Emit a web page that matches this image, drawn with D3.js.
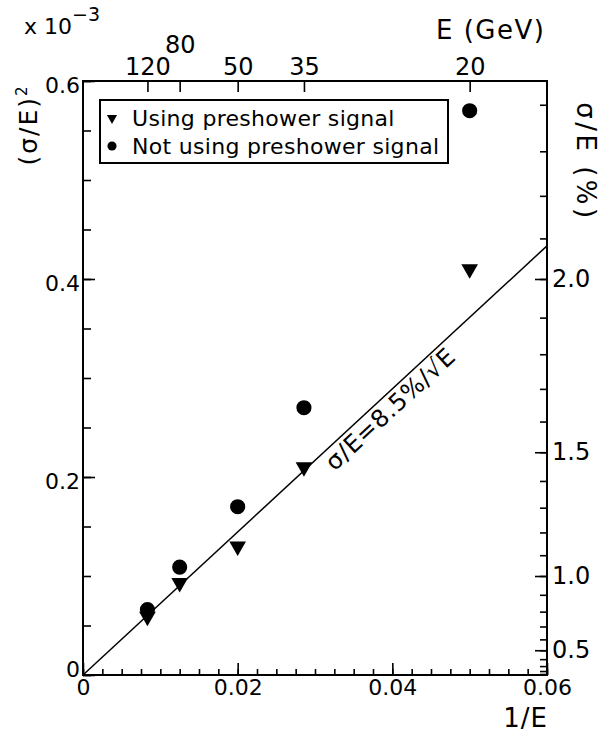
<!DOCTYPE html>
<html>
<head>
<meta charset="utf-8">
<script src="https://cdn.jsdelivr.net/npm/d3@7/dist/d3.min.js"></script>
<style>
  html, body { margin: 0; padding: 0; background: #fff; }
  svg text { font-family: "DejaVu Sans", "Liberation Sans", sans-serif; fill: #000; }
</style>
</head>
<body>
<svg id="chart" width="609" height="738"></svg>
<script>
// ---------------- data ----------------
const energies = [120, 80, 50, 35, 20];                 // GeV
const usingPreshower = [0.059, 0.093, 0.13, 0.21, 0.41]; // (sigma/E)^2 x 1e-3
const notUsingPreshower = [0.066, 0.109, 0.17, 0.27, 0.57];
const seriesNames = ["Using preshower signal", "Not using preshower signal"];
const xTicks = [0, 0.02, 0.04, 0.06];
const yTicks = [0, 0.2, 0.4, 0.6];
const rightTicks = [0.5, 1.0, 1.5, 2.0];                  // sigma/E in %
const resolutionTerm = 0.085;                            // sigma/E = 8.5%/sqrt(E)
const fitX = [0, 0.06];

// ---------------- layout ----------------
const X0 = 83, X1 = 547, Y0 = 675, Y1 = 81;
const svg = d3.select("#chart");
const x = d3.scaleLinear().domain([0, 0.06]).range([X0, X1]);
const y = d3.scaleLinear().domain([0, 0.6]).range([Y0, Y1]);
const pctToY = p => p * p / 10; // (p/100)^2 / 1e-3

function styleAxis(g, fs) {
  g.select(".domain").remove();
  g.selectAll(".tick line").attr("stroke", "#000").attr("stroke-width", 1.6);
  g.selectAll(".tick text").attr("font-size", fs).attr("fill", "#000")
    .attr("font-family", "DejaVu Sans, sans-serif");
}

// bottom axis
const minorX = d3.range(0, 0.0601, 0.0025);
svg.append("g").attr("transform", `translate(0,${Y0})`)
  .call(d3.axisBottom(x).tickValues(minorX).tickFormat("").tickSizeInner(-6).tickSizeOuter(0))
  .call(g => styleAxis(g, 20));
svg.append("g").attr("transform", `translate(0,${Y0})`)
  .call(d3.axisBottom(x).tickValues(xTicks).tickFormat(d => d === 0 ? "0" : d3.format(".2f")(d))
        .tickSizeInner(-12).tickSizeOuter(0).tickPadding(4))
  .call(g => styleAxis(g, 22));

// left axis
const minorY = d3.range(0, 0.601, 0.05);
svg.append("g").attr("transform", `translate(${X0},0)`)
  .call(d3.axisLeft(y).tickValues(minorY).tickFormat("").tickSizeInner(-8).tickSizeOuter(0))
  .call(g => styleAxis(g, 20));
svg.append("g").attr("transform", `translate(${X0},0)`)
  .call(d3.axisLeft(y).tickValues(yTicks).tickFormat(d => d === 0 ? "0" : d3.format(".1f")(d))
        .tickSizeInner(-12).tickSizeOuter(0).tickPadding(3))
  .call(g => styleAxis(g, 22))
  .call(g => g.selectAll(".tick text").attr("dy", d => d === 0 ? "0.05em" : "0.5em"));

// right axis (sigma/E %)
const minorR = d3.range(1, 25).map(i => i / 10);
svg.append("g").attr("transform", `translate(${X1},0)`)
  .call(d3.axisRight(y).tickValues(minorR.map(pctToY)).tickFormat("").tickSizeInner(-7).tickSizeOuter(0))
  .call(g => styleAxis(g, 20));
svg.append("g").attr("transform", `translate(${X1},0)`)
  .call(d3.axisRight(y).tickValues(rightTicks.map(pctToY))
        .tickFormat((d, i) => d3.format(".1f")(rightTicks[i]))
        .tickSizeInner(-12).tickSizeOuter(0).tickPadding(5))
  .call(g => styleAxis(g, 24));

// top axis (E in GeV)
const topAxis = svg.append("g").attr("transform", `translate(0,${Y1})`)
  .call(d3.axisTop(x).tickValues(energies.map(e => 1 / e))
        .tickFormat((d, i) => String(energies[i])).tickSizeInner(-11).tickSizeOuter(0).tickPadding(6))
  .call(g => styleAxis(g, 24));
topAxis.selectAll(".tick text").filter((d, i) => energies[i] === 80).attr("dy", "-0.9em");

// frame
svg.append("rect").attr("x", X0).attr("y", Y1).attr("width", X1 - X0).attr("height", Y0 - Y1)
  .attr("fill", "none").attr("stroke", "#000").attr("stroke-width", 2);

// fit line
const k = resolutionTerm * resolutionTerm / 1e-3;
svg.append("path")
  .datum(fitX.map(v => [v, k * v]))
  .attr("d", d3.line().x(d => x(d[0])).y(d => y(d[1])))
  .attr("fill", "none").attr("stroke", "#000").attr("stroke-width", 1.5);

// line label
const ang = -Math.atan((y(0) - y(k * 0.06)) / (x(0.06) - x(0))) * 180 / Math.PI;
const lx = 0.0315, lOff = 22;
svg.append("text")
  .attr("transform", `translate(${x(lx) + 8},${y(k * lx) + lOff}) rotate(${ang})`)
  .attr("font-size", 24).attr("letter-spacing", 0.8)
  .text("σ/E=8.5%/√E");

// markers
const tri = d3.symbol().type(d3.symbolTriangle);
const circ = d3.symbol().type(d3.symbolCircle);
svg.append("g").selectAll("path.c").data(energies).join("path")
  .attr("transform", (e, i) => `translate(${x(1 / e)},${y(notUsingPreshower[i])})`)
  .attr("d", circ.size(180)()).attr("fill", "#000");
svg.append("g").selectAll("path.t").data(energies).join("path")
  .attr("transform", (e, i) => `translate(${x(1 / e)},${y(usingPreshower[i])}) rotate(180)`)
  .attr("d", tri.size(120)()).attr("fill", "#000");

// legend
const lg = svg.append("g");
lg.append("rect").attr("x", 100).attr("y", 100).attr("width", 348).attr("height", 63)
  .attr("fill", "#fff").attr("stroke", "#000").attr("stroke-width", 2);
lg.append("path").attr("transform", "translate(112,118) rotate(180)")
  .attr("d", tri.size(45)()).attr("fill", "#000");
lg.append("path").attr("transform", "translate(112,146)")
  .attr("d", circ.size(65)()).attr("fill", "#000");
lg.append("text").attr("x", 132).attr("y", 126).attr("font-size", 22).attr("letter-spacing", 0.3).text(seriesNames[0]);
lg.append("text").attr("x", 132).attr("y", 154).attr("font-size", 22).attr("letter-spacing", 0.3).text(seriesNames[1]);

// titles
const t10 = svg.append("text").attr("x", 24).attr("y", 34).attr("font-size", 22);
t10.append("tspan").text("x 10");
t10.append("tspan").attr("dy", -13).attr("font-size", 19).text("−3");

svg.append("text").attr("x", 436).attr("y", 39).attr("font-size", 26).attr("letter-spacing", 1.5)
  .text("E (GeV)");
svg.append("text").attr("x", 548).attr("y", 727).attr("text-anchor", "end")
  .attr("font-size", 26).attr("letter-spacing", 1).text("1/E");

const yl = svg.append("text").attr("transform", "translate(37,125) rotate(-90)")
  .attr("text-anchor", "middle").attr("font-size", 25).attr("letter-spacing", 2);
yl.append("tspan").text("(σ/E)");
yl.append("tspan").attr("dy", -10).attr("font-size", 15).text("2");

svg.append("text").attr("transform", "translate(577,162) rotate(90)")
  .attr("text-anchor", "middle").attr("font-size", 26).attr("letter-spacing", 3.5)
  .text("σ/E (%)");
</script>
</body>
</html>
